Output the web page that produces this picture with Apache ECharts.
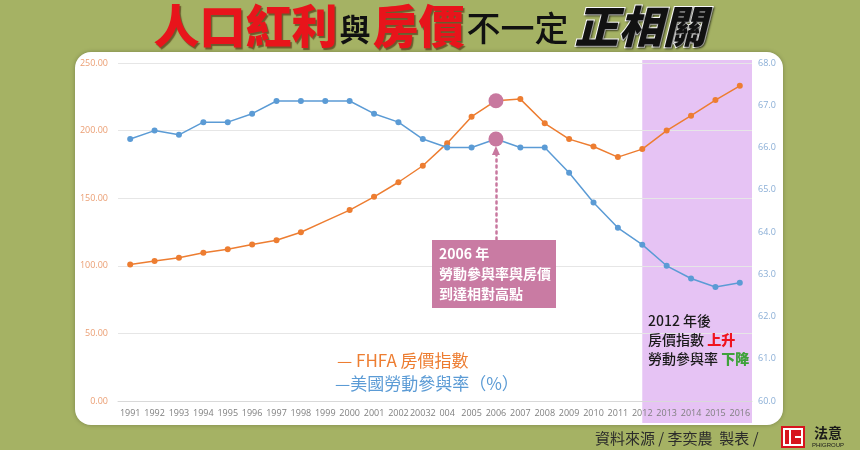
<!DOCTYPE html>
<html>
<head>
<meta charset="utf-8">
<script src="https://cdn.jsdelivr.net/npm/echarts@6/dist/echarts.min.js"></script>
<style>
html,body{margin:0;padding:0;background:#a5b264;}
#main{width:860px;height:450px;}
</style>
</head>
<body>
<div id="main"></div>
<script>
// ---- data ----
const years = ['1991','1992','1993','1994','1995','1996','1997','1998','1999','2000','2001','2002','2003','2004','2005','2006','2007','2008','2009','2010','2011','2012','2013','2014','2015','2016'];
const xTickLabels = ['1991','1992','1993','1994','1995','1996','1997','1998','1999','2000','2001','2002','20032','004','2005','2006','2007','2008','2009','2010','2011','2012','2013','2014','2015','2016'];
const fhfaIndex = [101.0,103.5,105.9,109.6,112.3,115.7,118.9,124.8,133.0,141.2,151.0,161.8,174.0,190.7,210.3,222.1,223.3,205.4,193.7,188.2,180.4,186.3,200.0,211.0,222.6,233.1];
const laborRate = [66.2,66.4,66.3,66.6,66.6,66.8,67.1,67.1,67.1,67.1,66.8,66.6,66.2,66.0,66.0,66.2,66.0,66.0,65.4,64.7,64.1,63.7,63.2,62.9,62.7,62.8];
const fhfaName = 'FHFA 房價指數';
const laborName = '美國勞動參與率（%）';
const peakYear = '2006';
const shadeStartYear = '2012';
const fhfaHiddenMarkerYears = ['1999'];

const ORANGE = '#ed7d31', BLUE = '#5b9bd5', PINK = '#c8789f';
const CJK = '"Noto Sans CJK TC","Noto Sans CJK SC",sans-serif';

const chart = echarts.init(document.getElementById('main'));
const peakIdx = years.indexOf(peakYear);

function styled(arr, hiddenYears) {
  return arr.map((v, i) => {
    if (i === peakIdx) return {value: v, symbolSize: 15, itemStyle: {color: PINK}, z: 10};
    if (hiddenYears.includes(years[i])) return {value: v, symbolSize: 0};
    return v;
  });
}

const option = {
  backgroundColor: '#a5b264',
  animation: false,
  grid: {left: 118, right: 108, top: 63, bottom: 49},
  xAxis: {
    type: 'category', data: years, boundaryGap: true,
    axisLine: {show: true, lineStyle: {color: '#d9d9d9'}},
    axisTick: {show: false},
    axisLabel: {color: '#7f7f7f', fontSize: 9, margin: 8, fontFamily: 'Open Sans, sans-serif',
      interval: 0, formatter: (v, i) => xTickLabels[i]}
  },
  yAxis: [{
    type: 'value', min: 0, max: 250, interval: 50,
    axisLine: {show: false}, axisTick: {show: false},
    axisLabel: {color: '#eb9f74', fontSize: 9, margin: 10, fontFamily: 'Open Sans, sans-serif', formatter: v => v.toFixed(2)},
    splitLine: {lineStyle: {color: '#e6e6e6'}}
  }, {
    type: 'value', min: 60, max: 68, interval: 1,
    axisLine: {show: false}, axisTick: {show: false},
    axisLabel: {color: '#8aaed6', fontSize: 9, margin: 6, fontFamily: 'Open Sans, sans-serif', formatter: v => v.toFixed(1)},
    splitLine: {show: false}
  }],
  series: [{
    name: fhfaName, type: 'line', yAxisIndex: 0, z: 5,
    data: styled(fhfaIndex, fhfaHiddenMarkerYears),
    symbol: 'circle', symbolSize: 6, showSymbol: true,
    lineStyle: {color: ORANGE, width: 1.5}, itemStyle: {color: ORANGE}
  }, {
    name: laborName, type: 'line', yAxisIndex: 1, z: 5,
    data: styled(laborRate, []),
    symbol: 'circle', symbolSize: 6,
    lineStyle: {color: BLUE, width: 1.5}, itemStyle: {color: BLUE},
    markLine: {
      silent: true, label: {show: false},
      lineStyle: {color: PINK, type: [2, 4], width: 2.5, cap: 'round'},
      symbolSize: [8, 9],
      data: [[{coord: [peakIdx, 63.82], symbol: 'none'}, {coord: [peakIdx, 65.93], symbol: 'triangle'}]]
    }
  }],
  graphic: []
};
chart.setOption(option);

// computed positions for decorations
const gridRight = 860 - 108;
const shadeX = chart.convertToPixel({xAxisIndex: 0}, shadeStartYear);

const graphics = [
  // white card
  {type: 'rect', z: -10, shape: {x: 75, y: 52, width: 708, height: 373, r: 16},
   style: {fill: '#ffffff', shadowBlur: 4, shadowColor: 'rgba(0,0,0,0.25)'}},
  // shaded period
  {type: 'rect', z: -5, shape: {x: shadeX, y: 60, width: gridRight - shadeX, height: 363},
   style: {fill: '#e6c3f4'}},
  // title
  {type: 'text', z: 10, x: 430, y: 26,
   style: {
     text: '{r|人口紅利}{k|與}{r|房價}{b|不一定}{i|正相關}',
     align: 'center', verticalAlign: 'middle',
     rich: {
       r: {fontFamily: CJK, fontSize: 46, fontWeight: 900, fill: '#e8141b', textShadowColor: 'rgba(60,20,0,0.55)', textShadowBlur: 1, textShadowOffsetX: 1.5, textShadowOffsetY: 1.5},
       k: {fontFamily: CJK, fontSize: 31, fontWeight: 700, fill: '#111', padding: [6, 2, 0, 2]},
       b: {fontFamily: CJK, fontSize: 34, fontWeight: 500, fill: '#111', padding: [4, 6, 0, 2]},
       i: {fontFamily: CJK, fontSize: 44, fontWeight: 900, fontStyle: 'italic', fill: '#111', stroke: '#ffffff', lineWidth: 2, textShadowColor: 'rgba(0,0,0,0.5)', textShadowBlur: 2, textShadowOffsetX: 1, textShadowOffsetY: 1}
     }
   }},
  // 2006 annotation box
  {type: 'rect', z: 10, shape: {x: 432, y: 240, width: 124, height: 68}, style: {fill: '#c97ba3'}},
  {type: 'text', z: 11, x: 439, y: 244,
   style: {text: '2006 年\n勞動參與率與房價\n到達相對高點', fill: '#ffffff', fontFamily: CJK, fontSize: 14, fontWeight: 700, lineHeight: 20}},
  // 2012 annotation
  {type: 'text', z: 11, x: 648, y: 311,
   style: {
     text: '{k|2012 年後}\n{k|房價指數 }{r|上升}\n{k|勞動參與率 }{g|下降}',
     rich: {
       k: {fontFamily: CJK, fontSize: 14, fontWeight: 500, fill: '#1a1a1a', lineHeight: 19},
       r: {fontFamily: CJK, fontSize: 14, fontWeight: 900, fill: '#f0141e', lineHeight: 19},
       g: {fontFamily: CJK, fontSize: 14, fontWeight: 900, fill: '#3ea23a', lineHeight: 19}
     }
   }},
  // legend texts
  {type: 'text', z: 11, x: 337, y: 361,
   style: {text: '— ' + fhfaName, fill: ORANGE, fontFamily: CJK, fontSize: 17, verticalAlign: 'middle'}},
  {type: 'text', z: 11, x: 335, y: 384,
   style: {text: '—' + laborName, fill: BLUE, fontFamily: CJK, fontSize: 17, verticalAlign: 'middle'}},
  // footer
  {type: 'text', z: 11, x: 595, y: 438,
   style: {text: '資料來源 / 李奕農  製表 /', fill: '#2b2b2b', fontFamily: CJK, fontSize: 15, verticalAlign: 'middle'}},
  // logo
  {type: 'rect', z: 11, shape: {x: 781, y: 426, width: 24, height: 22}, style: {fill: '#d7141d'}},
  {type: 'rect', z: 12, shape: {x: 784, y: 429, width: 18, height: 16}, style: {fill: 'none', stroke: '#ffffff', lineWidth: 2}},
  {type: 'line', z: 12, shape: {x1: 790, y1: 430, x2: 790, y2: 444}, style: {stroke: '#ffffff', lineWidth: 2}},
  {type: 'line', z: 12, shape: {x1: 795, y1: 437, x2: 802, y2: 437}, style: {stroke: '#ffffff', lineWidth: 2}},
  {type: 'text', z: 12, x: 828, y: 433,
   style: {text: '法意', fill: '#1a1a1a', fontFamily: CJK, fontSize: 14, fontWeight: 700, align: 'center', verticalAlign: 'middle'}},
  {type: 'text', z: 12, x: 828, y: 445,
   style: {text: 'PHIGROUP', fill: '#1a1a1a', fontFamily: 'Liberation Sans, sans-serif', fontSize: 6, align: 'center', verticalAlign: 'middle'}}
];
chart.setOption({graphic: graphics});
</script>
</body>
</html>
